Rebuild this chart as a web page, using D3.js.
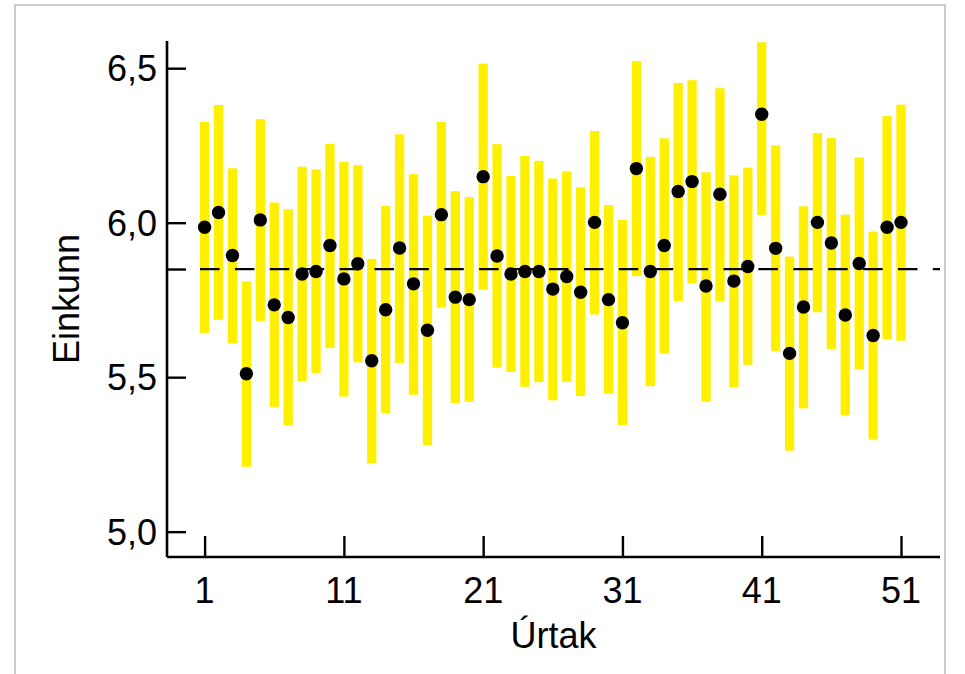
<!DOCTYPE html>
<html>
<head>
<meta charset="utf-8">
<script src="https://cdn.jsdelivr.net/npm/d3@7"></script>
<style>
  html, body { margin: 0; padding: 0; background: #ffffff; }
  svg { display: block; }
  text { font-family: "Liberation Sans", Arial, Helvetica, sans-serif; fill: #000; }
</style>
</head>
<body>
<svg id="chart" width="965" height="674"></svg>
<script>
// ---- data ----
const units = [1,2,3,4,5,6,7,8,9,10,11,12,13,14,15,16,17,18,19,20,21,22,23,24,25,26,27,28,29,30,31,32,33,34,35,36,37,38,39,40,41,42,43,44,45,46,47,48,49,50,51];
const means = [5.985,6.033,5.894,5.511,6.009,5.734,5.693,5.834,5.842,5.926,5.818,5.867,5.553,5.718,5.918,5.802,5.652,6.026,5.759,5.751,6.149,5.892,5.834,5.842,5.842,5.785,5.826,5.775,6.001,5.751,5.676,6.175,5.842,5.926,6.101,6.133,5.795,6.092,5.811,5.858,6.351,5.917,5.577,5.727,6.001,5.934,5.701,5.868,5.635,5.985,6.001];
const upper = [6.326,6.381,6.176,5.810,6.335,6.065,6.043,6.181,6.172,6.255,6.197,6.186,5.883,6.054,6.286,6.157,6.023,6.326,6.102,6.083,6.515,6.254,6.151,6.216,6.200,6.143,6.166,6.114,6.297,6.057,6.009,6.523,6.213,6.273,6.452,6.461,6.163,6.435,6.153,6.178,6.584,6.250,5.890,6.053,6.290,6.274,6.026,6.211,5.971,6.345,6.382];
const lower = [5.643,5.686,5.609,5.210,5.682,5.404,5.343,5.486,5.513,5.594,5.437,5.548,5.221,5.383,5.546,5.443,5.280,5.725,5.416,5.420,5.783,5.531,5.517,5.469,5.484,5.425,5.485,5.439,5.703,5.446,5.345,5.827,5.471,5.576,5.746,5.804,5.420,5.745,5.467,5.540,6.025,5.585,5.262,5.399,5.710,5.591,5.377,5.525,5.298,5.622,5.618];
const overallMean = 5.85;
const yTicks = [5.0, 5.5, 6.0, 6.5];
const yTickLabels = ["5,0", "5,5", "6,0", "6,5"];
const xTicks = [1, 11, 21, 31, 41, 51];
const xTitle = "Úrtak";
const yTitle = "Einkunn";

// ---- layout ----
const svg = d3.select("#chart");
const pLeft = 167, pRight = 940, pTop = 41, pBottom = 557;

// frame border
svg.append("rect")
  .attr("x", 15).attr("y", 5).attr("width", 930).attr("height", 700)
  .attr("fill", "#ffffff").attr("stroke", "#cccccc").attr("stroke-width", 2);

const x = d3.scaleLinear().domain([-1.7, 53.8]).range([pLeft, pRight]);
const y = d3.scaleLinear().domain([4.918, 6.588]).range([pBottom, pTop]);

const data = units.map((u, i) => ({u, m: means[i], lo: lower[i], hi: upper[i]}));

// error bars
const barW = 9.3;
svg.append("g").selectAll("rect").data(data).join("rect")
  .attr("x", d => x(d.u) - barW / 2)
  .attr("width", barW)
  .attr("y", d => y(d.hi))
  .attr("height", d => y(d.lo) - y(d.hi))
  .attr("fill", "#FFF000");

// reference line
svg.append("line")
  .attr("x1", 200).attr("x2", pRight)
  .attr("y1", y(overallMean)).attr("y2", y(overallMean))
  .attr("stroke", "#000").attr("stroke-width", 2.3)
  .attr("stroke-dasharray", "19.5,15.4");

// points
svg.append("g").selectAll("circle").data(data).join("circle")
  .attr("cx", d => x(d.u))
  .attr("cy", d => y(d.m))
  .attr("r", 6.7)
  .attr("fill", "#000");

// y axis
const yAxis = d3.axisRight(y)
  .tickValues(yTicks.concat([overallMean]))
  .tickSize(19)
  .tickFormat("");
const gy = svg.append("g").attr("transform", `translate(${pLeft},0)`).call(yAxis);
gy.select(".domain").attr("d", `M0,${pTop}V${pBottom}`).attr("stroke-width", 2.6);
gy.selectAll(".tick line").attr("stroke-width", 2.4);

// y tick labels
svg.append("g").selectAll("text").data(yTicks).join("text")
  .attr("x", 157)
  .attr("y", d => y(d) + 13)
  .attr("text-anchor", "end")
  .style("font-size", "36px")
  .text((d, i) => yTickLabels[i]);

// x axis
const xAxis = d3.axisTop(x).tickValues(xTicks).tickSize(21).tickFormat("");
const gx = svg.append("g").attr("transform", `translate(0,${pBottom})`).call(xAxis);
gx.select(".domain").attr("d", `M${pLeft},0H${pRight}`).attr("stroke-width", 2.6);
gx.selectAll(".tick line").attr("stroke-width", 2.4);

svg.append("g").selectAll("text").data(xTicks).join("text")
  .attr("x", d => x(d))
  .attr("y", 603)
  .attr("text-anchor", "middle")
  .style("font-size", "36px")
  .text(d => d);

// axis titles
svg.append("text")
  .attr("x", (pLeft + pRight) / 2)
  .attr("y", 648)
  .attr("text-anchor", "middle")
  .style("font-size", "36px")
  .text(xTitle);

svg.append("text")
  .attr("transform", `translate(79,${(pTop + pBottom) / 2}) rotate(-90)`)
  .attr("text-anchor", "middle")
  .style("font-size", "36px")
  .text(yTitle);
</script>
</body>
</html>
